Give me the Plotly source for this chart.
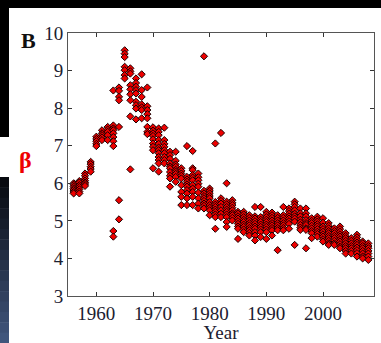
import plotly.graph_objects as go

# ---- data (beta values per year) ----
years = list(range(1956, 2009))
beta_by_year = [
    [6.0, 5.96, 5.91, 5.86, 5.82, 5.77, 5.73],                      # 1956
    [6.06, 6.02, 5.95, 5.9, 5.84, 5.78, 5.73],                      # 1957
    [6.26, 6.2, 6.13, 6.07, 6.02, 5.98, 5.93],                      # 1958
    [6.57, 6.51, 6.44, 6.38, 6.31],                                 # 1959
    [7.24, 7.18, 7.12, 7.05, 6.99],                                 # 1960
    [7.41, 7.33, 7.28, 7.22, 7.15],                                 # 1961
    [7.5, 7.43, 7.37, 7.28, 7.15],                                  # 1962
    [8.47, 7.54, 7.46, 7.41, 7.33, 7.23, 7.12, 6.99, 4.73, 4.58],   # 1963
    [8.55, 8.46, 8.3, 8.21, 7.5, 5.55, 5.04],                       # 1964
    [9.54, 9.45, 9.36, 9.10, 9.01, 8.88, 8.79],                     # 1965
    [9.06, 8.98, 8.92, 8.61, 8.5, 8.37, 8.21, 7.78, 6.37],          # 1966
    [8.79, 8.67, 8.57, 8.48, 8.39, 8.17, 8.08, 7.99, 7.70],         # 1967
    [8.9, 8.48, 8.3, 8.1, 8.02, 7.95, 7.73],                        # 1968
    [8.55, 8.05, 7.95, 7.84, 7.73, 7.5, 7.37, 7.31],                # 1969
    [7.49, 7.4, 7.33, 7.26, 7.17, 7.06, 6.97, 6.88, 6.4],           # 1970
    [7.46, 7.37, 7.28, 7.15, 7.05, 6.95, 6.88, 6.8, 6.7, 6.62, 6.53, 6.31],  # 1971
    [7.48, 7.15, 7.05, 6.97, 6.88, 6.8, 6.7, 6.62, 6.53],           # 1972
    [6.84, 6.75, 6.65, 6.53, 6.45, 6.4, 6.3, 6.2, 6.13, 5.91],      # 1973
    [6.84, 6.6, 6.5, 6.44, 6.36, 6.31, 6.25, 6.17, 6.04],           # 1974
    [6.4, 6.33, 6.26, 6.2, 6.13, 5.95, 5.77, 5.64, 5.42],           # 1975
    [6.99, 6.17, 6.1, 6.04, 5.97, 5.91, 5.82, 5.73, 5.6, 5.42],     # 1976
    [6.86, 6.4, 6.35, 6.22, 6.15, 6.08, 5.95, 5.86, 5.77, 5.64, 5.42],  # 1977
    [6.26, 6.16, 6.08, 5.99, 5.91, 5.75, 5.6, 5.46, 5.33],          # 1978
    [9.38, 5.8, 5.73, 5.66, 5.6, 5.53, 5.46, 5.4, 5.33],            # 1979
    [5.86, 5.8, 5.73, 5.66, 5.6, 5.5, 5.42, 5.35, 5.28, 5.15],      # 1980
    [7.06, 5.5, 5.43, 5.37, 5.3, 5.24, 5.17, 5.1, 4.79],            # 1981
    [7.34, 5.6, 5.53, 5.46, 5.37, 5.28, 5.19, 5.1],                 # 1982
    [6.0, 5.51, 5.44, 5.37, 5.3, 5.24, 5.17, 5.1, 4.97, 4.84],      # 1983
    [5.55, 5.48, 5.42, 5.35, 5.28, 5.2, 5.15, 5.08, 5.01],          # 1984
    [5.24, 5.19, 5.12, 5.06, 4.99, 4.92, 4.85, 4.79, 4.52],         # 1985
    [5.24, 5.17, 5.1, 5.03, 4.97, 4.9, 4.84, 4.77, 4.7],            # 1986
    [5.15, 5.08, 5.01, 4.94, 4.88, 4.81, 4.75, 4.68, 4.61],         # 1987
    [5.37, 5.12, 5.06, 4.99, 4.92, 4.85, 4.79, 4.7, 4.61, 4.48],    # 1988
    [5.37, 5.1, 5.03, 4.97, 4.9, 4.84, 4.77, 4.7, 4.57],            # 1989
    [5.24, 5.17, 5.1, 5.03, 4.97, 4.9, 4.84, 4.77, 4.7, 4.52],      # 1990
    [5.22, 5.15, 5.08, 5.01, 4.94, 4.88, 4.81, 4.75, 4.61],         # 1991
    [5.15, 5.08, 5.01, 4.94, 4.88, 4.81, 4.75, 4.22],               # 1992
    [5.37, 5.15, 5.08, 5.01, 4.94, 4.88, 4.81, 4.75],               # 1993
    [5.33, 5.26, 5.19, 5.12, 5.06, 4.99, 4.92, 4.79],               # 1994
    [5.51, 5.44, 5.37, 5.28, 5.19, 5.12, 5.06, 4.98, 4.36],         # 1995
    [5.33, 5.2, 5.12, 5.03, 4.96, 4.89, 4.82, 4.76],                # 1996
    [5.33, 5.2, 5.12, 5.02, 4.94, 4.89, 4.8, 4.76, 4.27],           # 1997
    [5.07, 5.0, 4.94, 4.87, 4.8, 4.73, 4.67, 4.54],                 # 1998
    [5.11, 5.04, 4.98, 4.91, 4.85, 4.78, 4.71, 4.65, 4.58],         # 1999
    [5.07, 4.95, 4.85, 4.78, 4.71, 4.64, 4.58, 4.51, 4.45],         # 2000
    [4.94, 4.87, 4.8, 4.73, 4.67, 4.6, 4.54, 4.47, 4.4, 4.36],      # 2001
    [4.8, 4.73, 4.67, 4.6, 4.54, 4.47, 4.4, 4.36],                  # 2002
    [4.85, 4.78, 4.71, 4.64, 4.58, 4.51, 4.45, 4.38, 4.31, 4.27],   # 2003
    [4.67, 4.6, 4.54, 4.47, 4.4, 4.33, 4.27, 4.2, 4.13],            # 2004
    [4.54, 4.47, 4.4, 4.33, 4.27, 4.2, 4.13],                       # 2005
    [4.63, 4.56, 4.49, 4.42, 4.36, 4.29, 4.22, 4.14, 4.05],         # 2006
    [4.45, 4.4, 4.33, 4.27, 4.2, 4.13, 4.05, 4.0],                  # 2007
    [4.4, 4.33, 4.27, 4.2, 4.13, 4.05, 3.96],                       # 2008
]
x_ticks = [1960, 1970, 1980, 1990, 2000]
y_ticks = [3, 4, 5, 6, 7, 8, 9, 10]

xs, ys = [], []
for yr, vals in zip(years, beta_by_year):
    for v in vals:
        xs.append(yr)
        ys.append(v)

W, H = 381, 343
L, R, T, B = 68, 7, 33, 47
pw, ph = W - L - R, H - T - B

def px2x(px):
    return (px - L) / pw

def py2y(py):
    return (H - B - py) / ph

fig = go.Figure()
fig.add_trace(go.Scatter(
    x=xs, y=ys, mode="markers",
    marker=dict(symbol="diamond", size=5.5, color="#ee0000",
                line=dict(color="#1a0000", width=1)),
    showlegend=False, hoverinfo="skip",
))

shapes = []
# top black band
shapes.append(dict(type="rect", xref="paper", yref="paper",
                   x0=px2x(0), x1=px2x(W), y0=py2y(8), y1=py2y(0),
                   fillcolor="black", line_width=0, layer="below"))
# left strip: black top part
shapes.append(dict(type="rect", xref="paper", yref="paper",
                   x0=px2x(0), x1=px2x(9), y0=py2y(137), y1=py2y(0),
                   fillcolor="black", line_width=0, layer="below"))
# left strip gradient bottom part
n = 16
c0 = (8, 10, 16)
c1 = (64, 86, 124)
y_start, y_end = 177, 343
for i in range(n):
    t = i / (n - 1)
    c = tuple(int(c0[k] + (c1[k] - c0[k]) * t) for k in range(3))
    ya = y_start + (y_end - y_start) * i / n
    yb = y_start + (y_end - y_start) * (i + 1) / n
    shapes.append(dict(type="rect", xref="paper", yref="paper",
                       x0=px2x(0), x1=px2x(9), y0=py2y(yb + 0.5), y1=py2y(ya),
                       fillcolor="rgb(%d,%d,%d)" % c, line_width=0, layer="below"))

axis_font = dict(family="Liberation Serif, Times New Roman, serif", size=19, color="#1c2030")

fig.update_layout(
    width=W, height=H,
    margin=dict(l=L, r=R, t=T, b=B, autoexpand=False),
    paper_bgcolor="white", plot_bgcolor="white",
    shapes=shapes,
    xaxis=dict(range=[1955, 2009], tickvals=x_ticks, ticks="inside", ticklen=4,
               tickcolor="#333", showline=True, linecolor="#555", linewidth=1,
               mirror="ticks", showgrid=False, zeroline=False, tickfont=axis_font,
               automargin=False,
               title=dict(text="Year", font=axis_font, standoff=5)),
    yaxis=dict(range=[3, 10], tickvals=y_ticks, ticks="inside", ticklen=4,
               tickcolor="#333", showline=True, linecolor="#555", linewidth=1,
               mirror="ticks", showgrid=False, zeroline=False, tickfont=axis_font,
               automargin=False),
    annotations=[
        dict(text="<b>B</b>", xref="paper", yref="paper", x=px2x(19), y=py2y(26),
             xanchor="left", yanchor="top", showarrow=False,
             font=dict(family="Liberation Serif, serif", size=22, color="#111")),
        dict(text="<b>β</b>", xref="paper", yref="paper", x=px2x(26), y=py2y(160),
             xanchor="center", yanchor="middle", showarrow=False,
             font=dict(family="Liberation Serif, serif", size=24, color="#ee0000")),
    ],
)

fig.write_html("out.html")
